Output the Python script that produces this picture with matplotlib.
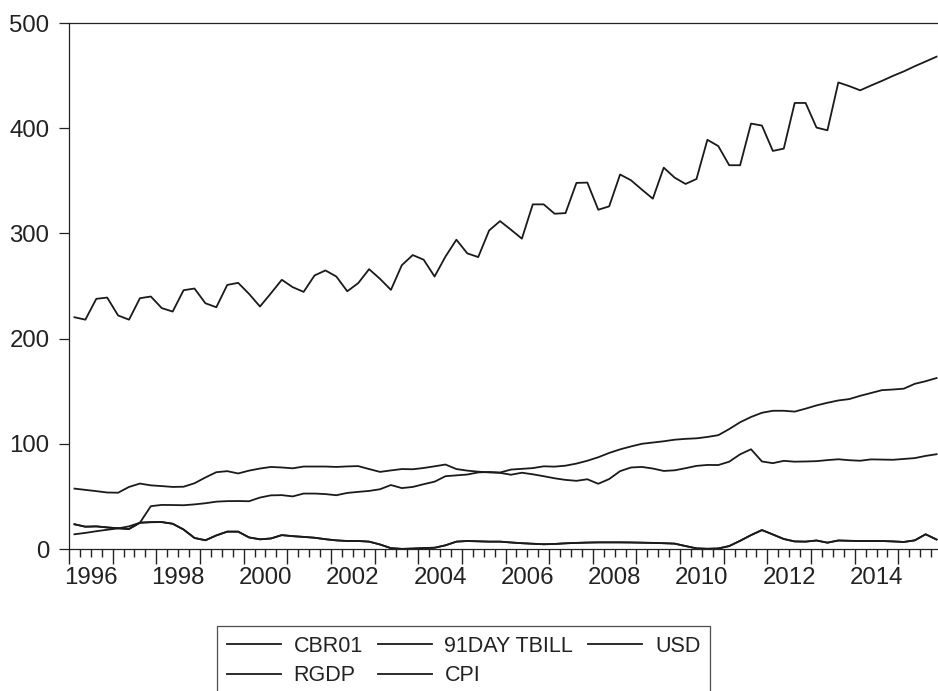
import numpy as np
import matplotlib
matplotlib.use("Agg")
import matplotlib.pyplot as plt

# Quarterly observations 1996Q1 - 2015Q4
start_year = 1996
n_quarters = 80

rgdp = [220.3, 218.0, 237.8, 239.0, 222.0, 218.0, 238.4, 240.0, 229.0, 225.7,
        246.0, 247.6, 233.6, 229.8, 251.0, 253.0, 242.5, 230.5, 243.0, 255.9,
        248.9, 244.4, 260.0, 264.8, 259.0, 245.0, 252.7, 266.0, 256.8, 246.3,
        269.8, 279.4, 275.0, 259.0, 278.0, 294.0, 281.0, 277.5, 302.8, 311.7,
        303.5, 295.0, 327.6, 327.6, 318.7, 319.3, 348.0, 348.3, 322.5, 325.7,
        356.0, 350.5, 341.6, 333.0, 362.5, 353.0, 347.0, 351.7, 389.0, 383.0,
        364.8, 364.8, 404.4, 402.5, 378.4, 380.6, 424.0, 424.0, 400.6, 398.0,
        443.5, 440.0, 436.0, 440.6, 445.0, 449.7, 454.0, 458.9, 463.4, 468.0]

usd = [57.4, 56.2, 55.0, 53.7, 53.5, 59.0, 62.2, 60.5, 59.8, 59.0,
       59.2, 62.5, 68.0, 73.0, 74.0, 71.8, 74.5, 76.5, 78.0, 77.5,
       76.7, 78.4, 78.4, 78.4, 78.0, 78.5, 78.8, 76.0, 73.3, 74.7,
       76.0, 75.8, 77.0, 78.6, 80.3, 76.0, 74.5, 73.5, 72.8, 72.4,
       70.6, 72.5, 71.0, 69.2, 67.2, 65.7, 64.8, 66.3, 62.0, 66.5,
       74.0, 77.5, 78.0, 76.5, 74.2, 74.8, 76.8, 79.0, 79.9, 79.8,
       83.0, 90.0, 94.8, 83.2, 81.6, 83.8, 83.0, 83.2, 83.5, 84.5,
       85.3, 84.4, 83.9, 85.2, 85.0, 84.8, 85.6, 86.4, 88.5, 90.1]

cpi = [14.0, 15.3, 16.9, 18.3, 19.6, 21.5, 25.0, 40.7, 41.9, 41.8,
       41.6, 42.4, 43.5, 45.0, 45.5, 45.6, 45.4, 48.9, 51.0, 51.2,
       50.0, 52.7, 52.7, 52.2, 51.1, 53.3, 54.3, 55.2, 56.8, 60.8,
       57.9, 59.0, 61.6, 64.0, 69.2, 70.0, 70.8, 72.8, 73.2, 72.7,
       75.5, 76.2, 76.9, 78.6, 78.3, 79.2, 81.2, 83.9, 87.2, 91.3,
       94.7, 97.5, 100.0, 101.2, 102.4, 103.9, 104.7, 105.2, 106.5, 108.2,
       114.0, 120.5, 125.5, 129.5, 131.4, 131.4, 130.6, 133.4, 136.5, 139.0,
       141.2, 142.5, 145.6, 148.3, 151.0, 151.6, 152.4, 157.0, 159.5, 162.5]

tbill = [23.5, 21.2, 21.5, 20.5, 19.7, 19.0, 25.0, 25.5, 25.6, 24.0,
         18.5, 10.5, 8.3, 12.9, 16.5, 16.5, 11.0, 9.2, 10.0, 13.2,
         12.2, 11.5, 10.7, 9.3, 8.2, 7.6, 7.6, 7.0, 4.3, 0.8,
         0.1, 0.4, 0.9, 1.2, 3.5, 7.0, 7.6, 7.3, 7.0, 7.0,
         6.2, 5.5, 5.0, 4.5, 4.8, 5.4, 5.8, 6.1, 6.3, 6.3,
         6.3, 6.2, 6.0, 5.8, 5.5, 5.1, 2.8, 0.6, 0.2, 0.5,
         2.8, 7.8, 13.2, 18.0, 13.8, 9.5, 7.2, 7.0, 8.1, 6.0,
         8.1, 7.8, 7.6, 7.6, 7.6, 7.2, 6.7, 8.2, 14.0, 9.0]

cbr01 = [23.5, 21.2, 21.5, 20.5, 19.7, 19.0, 25.0, 25.5, 25.6, 24.0,
         18.5, 10.5, 8.3, 12.9, 16.5, 16.5, 11.0, 9.2, 10.0, 13.2,
         12.2, 11.5, 10.7, 9.3, 8.2, 7.6, 7.6, 7.0, 4.3, 0.8,
         0.1, 0.4, 0.9, 1.2, 3.5, 7.0, 7.6, 7.3, 7.0, 7.0,
         6.2, 5.5, 5.0, 4.5, 4.8, 5.4, 5.8, 6.1, 6.3, 6.3,
         6.3, 6.2, 6.0, 5.8, 5.5, 5.1, 2.8, 0.6, 0.2, 0.5,
         2.8, 7.8, 13.2, 18.0, 13.8, 9.5, 7.2, 7.0, 8.1, 6.0,
         8.1, 7.8, 7.6, 7.6, 7.6, 7.2, 6.7, 8.2, 14.0, 9.0]

series_names = ["CBR01", "91DAY TBILL", "USD", "RGDP", "CPI"]
year_labels = [1996, 1998, 2000, 2002, 2004, 2006, 2008, 2010, 2012, 2014]
y_ticks = [0, 100, 200, 300, 400, 500]

plt.rcParams['font.family'] = ['Liberation Sans', 'DejaVu Sans']

W, H = 938, 691
fig = plt.figure(figsize=(W / 100, H / 100), dpi=100)
left_px, right_px, top_px, bottom_px = 69, 942, 23, 549
ax = fig.add_axes([left_px / W, 1 - bottom_px / H,
                   (right_px - left_px) / W, (bottom_px - top_px) / H])

x = start_year + np.arange(n_quarters) / 4.0 + 0.125

data = {"CBR01": cbr01, "91DAY TBILL": tbill, "USD": usd, "RGDP": rgdp, "CPI": cpi}
handles = {}
for name in series_names:
    (h,) = ax.plot(x, data[name], color='#1a1a1a', lw=1.3, label=name)
    handles[name] = h

ax.set_xlim(start_year, start_year + n_quarters / 4.0)
ax.set_ylim(0, 500)

ax.set_yticks(y_ticks)
ax.set_yticklabels([str(v) for v in y_ticks], fontsize=17.3, color='#222222')
ax.tick_params(axis='y', direction='out', length=7, width=0.9, pad=7, colors='#222222')

years = np.arange(start_year, start_year + n_quarters // 4 + 1)
ax.set_xticks(years)
ax.set_xticklabels([])
ax.set_xticks(start_year + np.arange(n_quarters + 1) / 4.0, minor=True)
ax.tick_params(axis='x', which='major', direction='out', length=11, width=1.0, colors='#222222')
ax.tick_params(axis='x', which='minor', direction='out', length=6, width=1.0, colors='#222222')

axes_h = bottom_px - top_px
for yr in year_labels:
    ax.text(yr + 0.5, -18 / axes_h, str(yr), transform=ax.get_xaxis_transform(),
            ha='center', va='top', fontsize=17.3, color='#222222')

for side in ['left', 'top', 'bottom', 'right']:
    ax.spines[side].set_color('#222222')
    ax.spines[side].set_linewidth(0.9)

order = ["CBR01", "RGDP", "91DAY TBILL", "CPI", "USD"]
leg = fig.legend([handles[n] for n in order], order,
                 loc='upper left', bbox_to_anchor=(217 / W, 1 - 626 / H),
                 ncol=3, fontsize=15.5, frameon=True, fancybox=False,
                 handlelength=2.5, handletextpad=0.6, columnspacing=0.7,
                 labelspacing=0.4, borderpad=0.45, borderaxespad=0)
leg.get_frame().set_edgecolor('#222222')
leg.get_frame().set_linewidth(0.9)
for t in leg.get_texts():
    t.set_color('#222222')

fig.savefig("out.png", dpi=100)
